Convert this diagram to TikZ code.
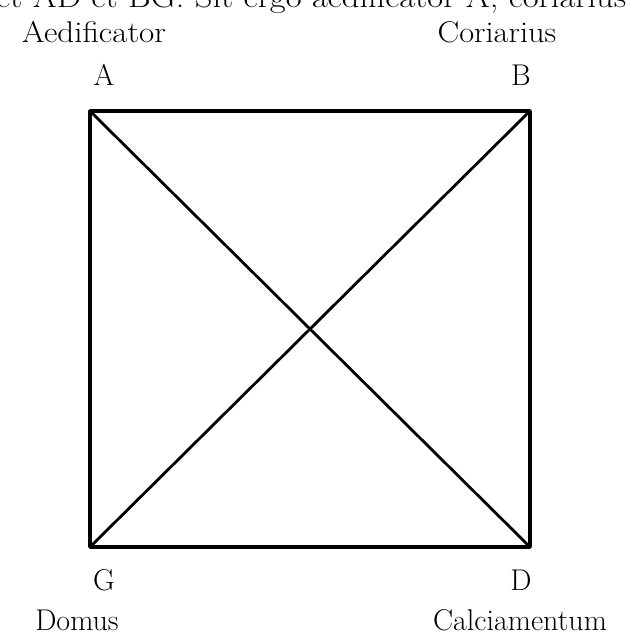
\documentclass[tikz,border=0pt]{standalone}
\begin{document}
\begin{tikzpicture}[x=1pt,y=-1pt,
  lbl/.style={font=\fontsize{30}{36}\selectfont, inner sep=0pt, anchor=base},
  side/.style={line width=3.6pt, line cap=round, line join=round},
  diag/.style={line width=2.8pt, line cap=round}]
\useasboundingbox (0,0) rectangle (637,637);
\clip (0,0) rectangle (637,637);
\node[lbl, anchor=base west, xscale=1.15] (top) at (-4,8) {et AD et BG. Sit ergo aedificator A, coriarius B};
\coordinate (A) at (90,111);
\coordinate (B) at (530,111);
\coordinate (G) at (90,547);
\coordinate (D) at (530,547);
\draw[side] (A) -- (B) -- (D) -- (G) -- cycle;
\draw[diag] (A) -- (D);
\draw[diag] (B) -- (G);
\node[lbl, xscale=1.1] (aed) at (94,42) {Aedificator};
\node[lbl, xscale=1.08] (cor) at (497,42) {Coriarius};
\node[lbl] (la) at (104,85) {A};
\node[lbl] (lb) at (521,85) {B};
\node[lbl] (lg) at (104,590) {G};
\node[lbl] (ld) at (521,590) {D};
\node[lbl] (dom) at (77,630) {Domus};
\node[lbl] (cal) at (520,630) {Calciamentum};
\end{tikzpicture}
\end{document}
